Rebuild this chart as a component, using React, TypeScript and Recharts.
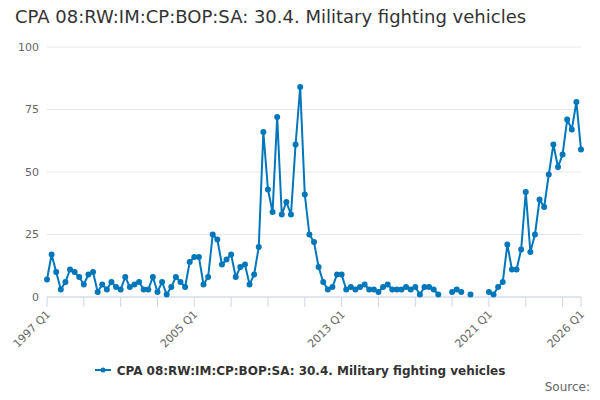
import { CartesianGrid, Line, LineChart, XAxis, YAxis } from "recharts";

const years = Array.from({ length: 30 }, (_, i) => 1997 + i);
const quarters: string[] = [];
years.forEach((y) => {
  ["Q1", "Q2", "Q3", "Q4"].forEach((q) => {
    if (y < 2026 || q === "Q1") quarters.push(`${y} ${q}`);
  });
});

const values: (number | null)[] = [
  7, 17, 10, 3, 6, 11, 10, 8, 5, 9, 10, 2, 5, 3, 6, 4,
  3, 8, 4, 5, 6, 3, 3, 8, 2, 6, 1, 4, 8, 6, 4, 14,
  16, 16, 5, 8, 25, 23, 13, 15, 17, 8, 12, 13, 5, 9, 20, 66,
  43, 34, 72, 33, 38, 33, 61, 84, 41, 25, 22, 12, 6, 3, 4, 9,
  9, 3, 4, 3, 4, 5, 3, 3, 2, 4, 5, 3, 3, 3, 4, 3,
  4, 1, 4, 4, 3, 1, null, null, 2, 3, 2, null, 1, null, null, null,
  2, 1, 4, 6, 21, 11, 11, 19, 42, 18, 25, 39, 36, 49, 61, 52,
  57, 71, 67, 78, 59,
];

const tickCats = quarters.filter((q, i) => i % 8 === 0 || q === "2026 Q1");
const labelCats = ["1997 Q1", "2005 Q1", "2013 Q1", "2021 Q1", "2026 Q1"];
const yTicks = [0, 25, 50, 75, 100];

const seriesName = "CPA 08:RW:IM:CP:BOP:SA: 30.4. Military fighting vehicles";
const data = quarters.map((q, i) => ({ q, v: values[i] }));

const color = "#0077bb";
const font = "DejaVu Sans, Verdana, sans-serif";

const XTick = (props: any) => {
  const { x, y, payload } = props;
  if (!labelCats.includes(payload.value)) return <g />;
  return (
    <text
      x={x + 4}
      y={y + 6}
      textAnchor="end"
      fontSize={11}
      fill="#666"
      fontFamily={font}
      transform={`rotate(-45 ${x + 4} ${y + 6})`}
    >
      {payload.value}
    </text>
  );
};

export default function App() {
  return (
    <div style={{ position: "relative", width: 600, height: 400, fontFamily: font, background: "#fff" }}>
      <style>{`body{margin:0}`}</style>
      <div style={{ position: "absolute", left: 15, top: 6, fontSize: 18, color: "#333" }}>{seriesName}</div>
      <LineChart width={600} height={360} data={data} margin={{ top: 47, right: 19, left: 0, bottom: 0 }}>
        <CartesianGrid vertical={false} stroke="#e6e6e6" />
        <XAxis
          dataKey="q"
          ticks={tickCats}
          interval={0}
          height={63}
          tick={<XTick />}
          stroke="#ccd6eb"
          tickSize={10}
        />
        <YAxis
          domain={[0, 100]}
          ticks={yTicks}
          width={47}
          axisLine={false}
          tickLine={false}
          tick={{ fontSize: 11, fill: "#666", fontFamily: font }}
        />
        <Line
          dataKey="v"
          stroke={color}
          strokeWidth={2}
          dot={{ r: 2, fill: color, stroke: color }}
          isAnimationActive={false}
        />
      </LineChart>
      <div
        style={{
          position: "absolute",
          top: 364,
          left: 0,
          width: 600,
          textAlign: "center",
          fontSize: 12,
          fontWeight: "bold",
          color: "#333",
        }}
      >
        <svg width={18} height={10} style={{ marginRight: 4 }}>
          <line x1={0} y1={5} x2={16} y2={5} stroke={color} strokeWidth={2} />
          <circle cx={8} cy={5} r={2.5} fill={color} />
        </svg>
        {seriesName}
      </div>
      <div style={{ position: "absolute", right: 10, top: 380, fontSize: 12, color: "#666" }}>Source:</div>
    </div>
  );
}
